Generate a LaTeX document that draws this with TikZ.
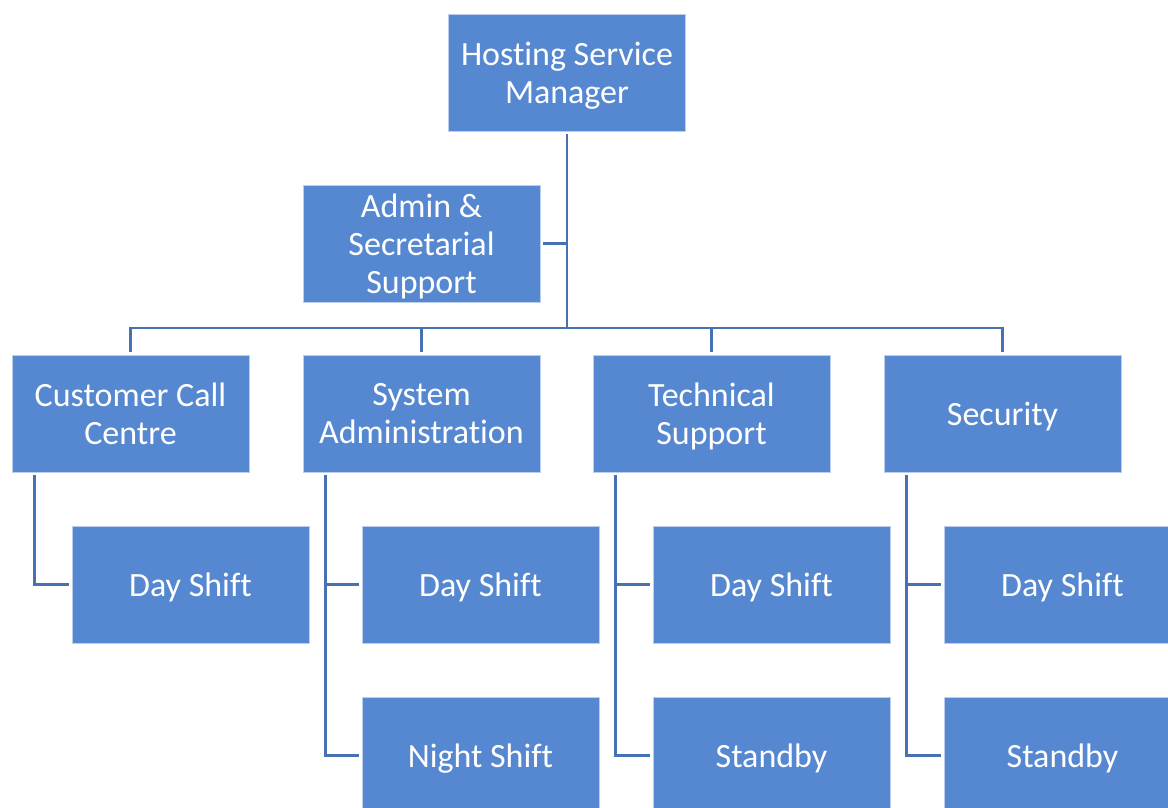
\documentclass[tikz,border=0pt]{standalone}
\usepackage{fontspec}
\setmainfont[RawFeature={-liga,-clig,-calt,-dlig}]{Carlito}
\definecolor{boxblue}{RGB}{86,136,209}
\definecolor{lineblue}{RGB}{70,114,180}

\begin{document}
\begin{tikzpicture}[x=1pt,y=-1pt,
  unit/.style={rectangle,fill=boxblue,draw=boxblue!40!white,line width=0.8pt,
    minimum width=237pt,minimum height=117pt,inner sep=0pt,outer sep=3pt,
    text=white,align=center,text depth=-3pt,font=\fontsize{34}{38}\selectfont},
  link/.style={draw=lineblue,line width=2.4pt}]
  \clip (0,0) rectangle (1168,807);
  % management
  \node[unit] (mgr)   at (567,72.5)    {Hosting Service\\Manager};
  \node[unit] (admin) at (421.5,243.5) {Admin \&\\Secretarial\\Support};
  \coordinate (hub) at (567,328);
  % departments
  \node[unit] (call) at (130.5,413.5)  {Customer Call\\Centre};
  \node[unit] (sys)  at (421.5,413.5)  {System\\Administration};
  \node[unit] (tech) at (711.5,413.5)  {Technical\\Support};
  \node[unit] (sec)  at (1002.5,413.5) {Security};
  % shifts
  \node[unit] (callday) at (190.5,584.5)  {Day Shift};
  \node[unit] (sysday)  at (480.5,584.5)  {Day Shift};
  \node[unit] (techday) at (771.5,584.5)  {Day Shift};
  \node[unit] (secday)  at (1062.5,584.5) {Day Shift};
  \node[unit] (sysnight) at (480.5,755.5)  {Night Shift};
  \node[unit] (techsby)  at (771.5,755.5)  {Standby};
  \node[unit] (secsby)   at (1062.5,755.5) {Standby};
  % links to manager
  \draw[link] (mgr) -- (hub);
  \draw[link] (admin.east) -- (admin.east -| hub);
  \draw[link] (call.north) -- (call.north |- hub) -- (sec.north |- hub) -- (sec.north);
  \draw[link] (sys.north |- hub) -- (sys.north);
  \draw[link] (tech.north |- hub) -- (tech.north);
  % links to shifts
  \draw[link] ([xshift=25.5pt]call.south west) |- (callday.west);
  \draw[link] ([xshift=25.5pt]sys.south west) |- (sysday.west);
  \draw[link] ([xshift=25.5pt]sys.south west) |- (sysnight.west);
  \draw[link] ([xshift=25.5pt]tech.south west) |- (techday.west);
  \draw[link] ([xshift=25.5pt]tech.south west) |- (techsby.west);
  \draw[link] ([xshift=25.5pt]sec.south west) |- (secday.west);
  \draw[link] ([xshift=25.5pt]sec.south west) |- (secsby.west);
\end{tikzpicture}
\end{document}
